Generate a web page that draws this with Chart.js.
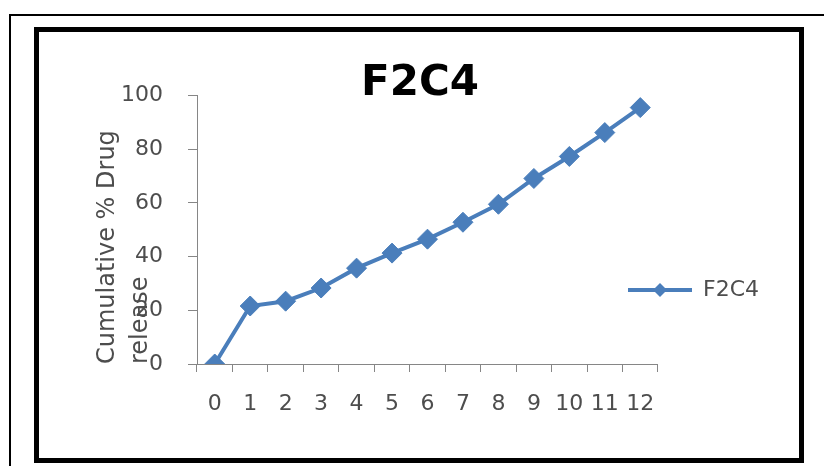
<!DOCTYPE html>
<html>
<head>
<meta charset="utf-8">
<script src="https://cdn.jsdelivr.net/npm/chart.js@4.4.1/dist/chart.umd.min.js"></script>
<style>
  html, body { margin: 0; padding: 0; background: #fff; overflow: hidden; }
  #wrap { position: relative; width: 824px; height: 466px; overflow: hidden; }
  #c { position: absolute; left: 0; top: 0; }
  .frame-outer { position: absolute; left: 9px; top: 14px; width: 840px; height: 480px;
                 border: 2px solid #000; box-sizing: border-box; }
  .frame-inner { position: absolute; left: 34px; top: 27px; width: 770px; height: 436px;
                 border: 5px solid #000; box-sizing: border-box; }
</style>
</head>
<body>
<div id="wrap">
  <canvas id="c" width="824" height="466"></canvas>
  <div class="frame-outer"></div>
  <div class="frame-inner"></div>
</div>
<script>
// Sampling times (x categories)
const timePoints = ['0', '1', '2', '3', '4', '5', '6', '7', '8', '9', '10', '11', '12'];
// Cumulative % drug released, formulation F2C4
const releaseF2C4 = [0, 21.6, 23.4, 28.3, 35.7, 41.3, 46.5, 52.8, 59.5, 69.1, 77.3, 86.2, 95.5];
// Value axis ticks
const yTicks = [0, 20, 40, 60, 80, 100];

const seriesName = 'F2C4';
const lineBlue = '#4a7ebb';
const axisGrey = '#868686';
const textGrey = '#4d4d4d';
const baseFont = 'DejaVu Sans';

// Legend glyph: a short line with a diamond on it
const GLYPH_W = 64;
function legendGlyph() {
  const g = document.createElement('canvas');
  g.width = GLYPH_W; g.height = 20;
  const x = g.getContext('2d');
  x.strokeStyle = lineBlue; x.lineWidth = 4;
  x.beginPath(); x.moveTo(0, 10); x.lineTo(GLYPH_W, 10); x.stroke();
  x.fillStyle = lineBlue;
  const c = GLYPH_W / 2;
  x.beginPath(); x.moveTo(c, 3); x.lineTo(c + 7, 10); x.lineTo(c, 17); x.lineTo(c - 7, 10); x.closePath(); x.fill();
  return g;
}

// Let the legend sit slightly over the right end of the plot, as spreadsheet charts do
const legendOverlap = {
  id: 'legendOverlap',
  afterLayout(chart) {
    const lg = chart.legend;
    if (lg) { lg.left -= 40; lg.right -= 40; }
  }
};

new Chart(document.getElementById('c'), {
  type: 'line',
  data: {
    labels: timePoints,
    datasets: [{
      label: seriesName,
      data: releaseF2C4,
      borderColor: lineBlue,
      backgroundColor: lineBlue,
      borderWidth: 4,
      pointStyle: 'rectRot',
      pointRadius: 10,
      pointBorderWidth: 1,
      pointBackgroundColor: lineBlue,
      pointBorderColor: lineBlue,
      tension: 0
    }]
  },
  plugins: [legendOverlap],
  options: {
    responsive: false,
    animation: false,
    layout: { padding: { left: 31, right: 15, top: 60, bottom: 10 } },
    plugins: {
      title: {
        display: true,
        text: 'F2C4',
        color: '#000',
        font: { family: baseFont, size: 42, weight: 'bold', lineHeight: 0.56 },
        padding: { top: 12, bottom: 0 }
      },
      legend: {
        position: 'right',
        align: 'start',
        title: { display: true, text: ' ', font: { size: 10, lineHeight: 1 }, padding: { top: 199, bottom: 0 } },
        labels: {
          usePointStyle: true,
          pointStyle: legendGlyph(),
          pointStyleWidth: GLYPH_W,
          padding: 10,
          color: textGrey,
          font: { family: baseFont, size: 22 }
        }
      },
      tooltip: { enabled: false }
    },
    scales: {
      x: {
        type: 'category',
        offset: true,
        grid: { offset: true, drawOnChartArea: false, tickLength: 8, color: axisGrey },
        border: { color: axisGrey, width: 1 },
        ticks: { padding: 19.5, color: textGrey, font: { family: baseFont, size: 22 }, maxRotation: 0, autoSkip: false },
        afterFit: s => { s.height = 92; }
      },
      y: {
        min: 0,
        max: 100,
        afterBuildTicks: s => { s.ticks = yTicks.map(v => ({ value: v })); },
        grid: { drawOnChartArea: false, tickLength: 9, color: axisGrey },
        border: { color: axisGrey, width: 1 },
        ticks: { padding: 25, color: textGrey, font: { family: baseFont, size: 22 } },
        title: {
          display: true,
          text: ['Cumulative % Drug', 'release'],
          align: 'start',
          color: textGrey,
          font: { family: baseFont, size: 24, lineHeight: 1.35 },
          padding: { top: 60.8, bottom: 0 }
        },
        afterFit: s => { s.width = 197 - 31; }
      }
    }
  }
});
</script>
</body>
</html>
